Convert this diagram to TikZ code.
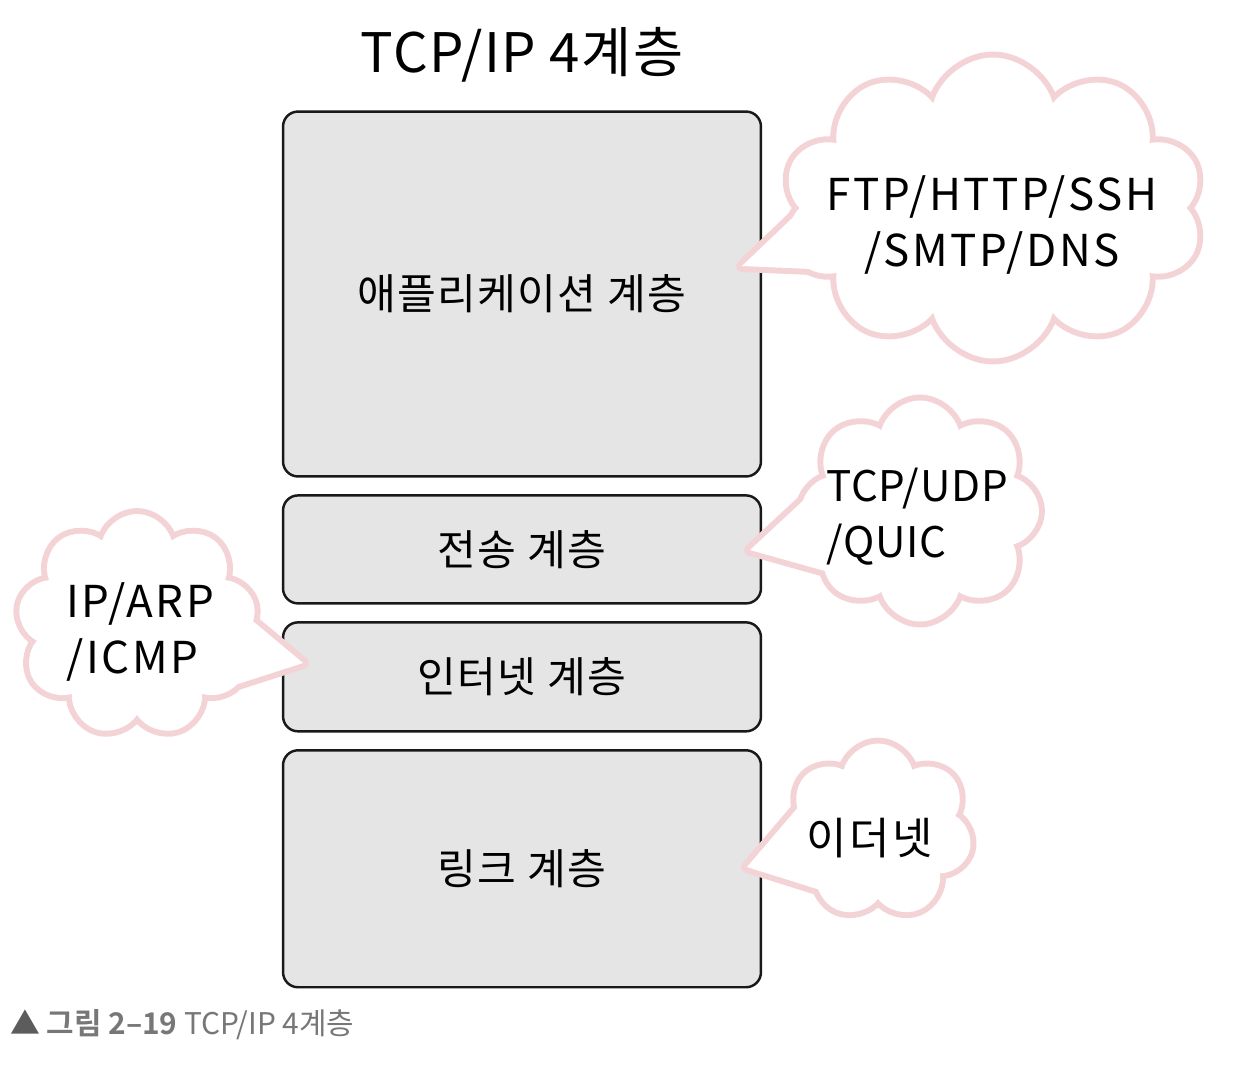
\documentclass[tikz,border=0pt]{standalone}
\usepackage{fontspec}
\setmainfont{Noto Sans CJK KR}[BoldFont={Noto Sans CJK KR Bold}]
\usetikzlibrary{positioning,shapes.symbols}
\definecolor{LayerGray}{HTML}{E5E5E5}
\definecolor{CloudPink}{HTML}{F4D3D7}
\definecolor{NoteGray}{HTML}{777777}
\definecolor{MarkGray}{HTML}{5C5C5C}

\begin{document}
\begin{tikzpicture}[x=0.02cm,y=-0.02cm,node distance=0.33cm,
    layer/.style={draw=black!90,fill=LayerGray,line width=1.4pt,rounded corners=0.3cm,
                  minimum width=9.56cm,font=\fontsize{24}{28}\selectfont\addfontfeatures{LetterSpace=3}},
    puff/.style n args={3}{cloud,cloud puffs=#1,cloud ignores aspect,
                  minimum width=#2,minimum height=#3},
    rim/.style={draw=CloudPink,line width=6.8pt,line join=round},
    word/.style={font=\fontsize{25}{32}\selectfont\addfontfeatures{LetterSpace=6}}]
    \useasboundingbox (0,0) rectangle (1246,1068);
    \node[font=\fontsize{31}{34}\selectfont\addfontfeatures{LetterSpace=3}] (title) at (522,55) {TCP/IP 4계층};
    \node[layer,minimum height=7.3cm] (app) at (522,294) {애플리케이션 계층};
    \node[layer,minimum height=2.16cm,below=of app] (trans) {전송 계층};
    \node[layer,minimum height=2.18cm,below=of trans] (net) {인터넷 계층};
    \node[layer,minimum height=4.74cm,below=of net] (link) {링크 계층};
    % cloud rims
    \node[puff={10}{8.4cm}{6.02cm},rim] (web) at (993,208) {};
    \node[puff={8}{4.76cm}{4.42cm},rim] (tcp) at (920,511) {};
    \node[puff={9}{4.76cm}{4.44cm},rim] (ip) at (137,625) {};
    \node[puff={7}{3.76cm}{3.5cm},rim] (eth) at (878,831) {};
    \coordinate (webtip) at (742,266);
    \coordinate (webtop) at (830,182);
    \coordinate (webbot) at (880,272);
    \coordinate (tcptip) at (750,550);
    \coordinate (tcptop) at (820,485);
    \coordinate (tcpbot) at (850,578);
    \coordinate (iptip) at (303,663);
    \coordinate (iptop) at (230,602);
    \coordinate (ipbot) at (210,693);
    \coordinate (ethtip) at (747,867);
    \coordinate (ethtop) at (800,805);
    \coordinate (ethbot) at (830,893);
    \draw[rim] (webtop) -- (webtip) -- (webbot) -- cycle;
    \draw[rim] (tcptop) -- (tcptip) -- (tcpbot) -- cycle;
    \draw[rim] (iptop) -- (iptip) -- (ipbot) -- cycle;
    \draw[rim] (ethtop) -- (ethtip) -- (ethbot) -- cycle;
    % cloud fills
    \node[puff={10}{8.4cm}{6.02cm},fill=white] (webin) at (web) {};
    \node[puff={8}{4.76cm}{4.42cm},fill=white] (tcpin) at (tcp) {};
    \node[puff={9}{4.76cm}{4.44cm},fill=white] (ipin) at (ip) {};
    \node[puff={7}{3.76cm}{3.5cm},fill=white] (ethin) at (eth) {};
    \fill[white] (webtop) -- (webtip) -- (webbot) -- cycle;
    \fill[white] (tcptop) -- (tcptip) -- (tcpbot) -- cycle;
    \fill[white] (iptop) -- (iptip) -- (ipbot) -- cycle;
    \fill[white] (ethtop) -- (ethtip) -- (ethbot) -- cycle;
    % protocol names
    \node[word,align=center] (webtext) at (992,225) {FTP/HTTP/SSH\\/SMTP/DNS};
    \node[word,font=\fontsize{24}{32}\selectfont\addfontfeatures{LetterSpace=2},
          align=left,anchor=west] (tcptext) at (820,517) {TCP/UDP\\/QUIC};
    \node[word,align=left,anchor=west] (iptext) at (60,632) {IP/ARP\\/ICMP};
    \node[word] (ethtext) at (870,838) {이더넷};
    \node[anchor=west,text=NoteGray,font=\fontsize{17}{20}\selectfont] (caption) at (4,1025)
      {\textcolor{MarkGray}{▲} \textbf{그림 2–19} TCP/IP 4계층};
\end{tikzpicture}
\end{document}
